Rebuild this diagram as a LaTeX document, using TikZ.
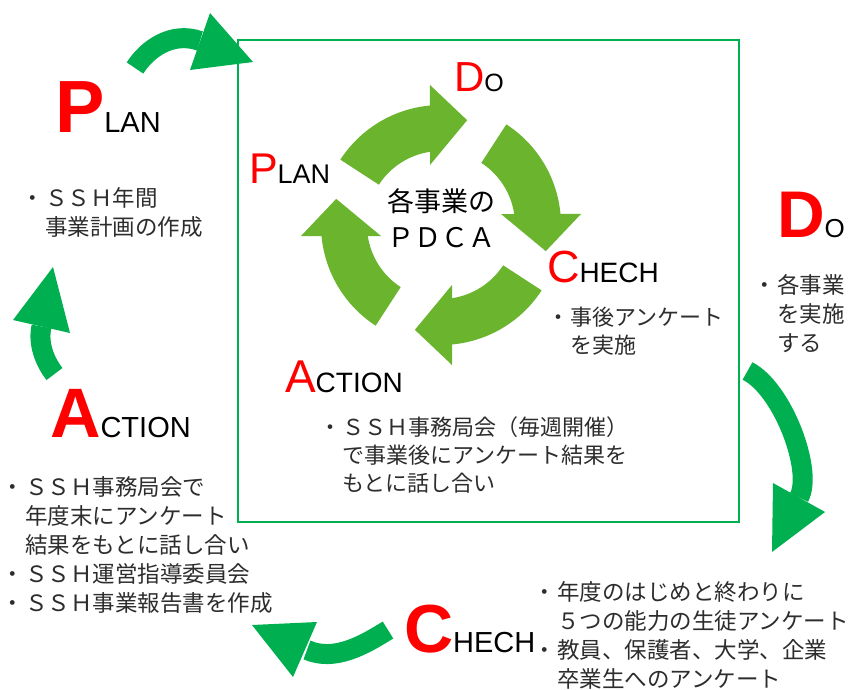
\documentclass[tikz,border=0pt]{standalone}
\usepackage{fontspec}
\setmainfont{Liberation Sans}
\newfontfamily\jp{Noto Sans CJK JP}
\definecolor{dkgreen}{RGB}{0,176,80}
\definecolor{ltgreen}{RGB}{106,180,46}
\definecolor{txt}{RGB}{45,45,45}
\newcommand\redB[2]{{\color{red}\fontsize{#1}{#1}\selectfont\bfseries #2}}
\newcommand\redL[2]{{\color{red}\fontsize{#1}{#1}\selectfont #2}}
\newcommand\smL[2]{{\fontsize{#1}{#1}\selectfont #2}}
\newcommand\bul{\makebox[16pt][l]{\makebox[8pt]{・}}}
\newcommand\ind{\hspace*{16pt}}
\begin{document}
\begin{tikzpicture}[x=1pt,y=-1pt,
  lab/.style={anchor=base west, inner sep=0pt, outer sep=0pt},
  body/.style={anchor=west, inner sep=0pt, align=left, text=txt, font=\jp\fontsize{22.5}{29}\selectfont},
  ibody/.style={body, font=\jp\fontsize{22}{28}\selectfont},
  outarrow/.style={draw=dkgreen, line width=20pt},
  head/.style={fill=dkgreen}]
\useasboundingbox (0,0) rectangle (862,690);
\fill[white] (0,0) rectangle (862,690);

% frame
\draw[dkgreen, line width=2.6pt] (238,40) rectangle (739,522);

% inner cycle
\begin{scope}[shift={(441,225)}, yscale=-1]
  \foreach \a in {0,-90,-180,-270} {
    \fill[ltgreen, rotate=\a] (147:120) arc[start angle=147, end angle=95.3, radius=120]
      -- (-11,140) -- (76:108) -- (-11,60) -- (-11,73.2)
      arc[start angle=98.5, end angle=147, radius=74] -- cycle;
  }
\end{scope}
\node[font=\jp\fontsize{27}{27}\selectfont, inner sep=0pt] (c1) at (441,201) {各事業の};
\node[font=\jp\fontsize{27}{27}\selectfont, inner sep=0pt] (c2) at (441,238) {ＰＤＣＡ};

% outer arrows
\draw[outarrow] (135,68) .. controls (147,49) and (172,31) .. (200,41);
\fill[head] (210,13) -- (253,62) -- (190,70) -- cycle;
\draw[outarrow] (747.5,371) .. controls (783,389) and (813.5,471.5) .. (799,497.5);
\fill[head] (773,483) -- (772,552) -- (825,512) -- cycle;
\draw[outarrow] (388,630) .. controls (364,645) and (334.5,662) .. (307,650);
\fill[head] (317,622) -- (252,625) -- (293,677) -- cycle;
\draw[outarrow] (54.5,374) .. controls (45,362) and (37.6,343.6) .. (41.5,326.5);
\fill[head] (13,320) -- (53,267) -- (70,333) -- cycle;

% outer labels
\node[lab] (oP) at (55,132) {\redB{74}{P}\smL{29}{LAN}};
\node[lab] (oD) at (777,237) {\redB{66}{D}\smL{26}{O}};
\node[lab] (oA) at (50,437) {\redB{70}{A}\smL{29}{CTION}};
\node[lab] (oC) at (404,652) {\redB{68}{C}\smL{29}{HECH}};

% inner labels
\node[lab] (iP) at (249,183) {\redL{43}{P}\smL{27}{LAN}};
\node[lab] (iD) at (454,92) {\redL{42}{D}\smL{25}{O}};
\node[lab] (iC) at (547,282) {\redL{45}{C}\smL{28}{HECH}};
\node[lab] (iA) at (285,392) {\redL{46}{A}\smL{28}{CTION}};

% texts
\node[body] (t1) at (29,212) {\bul ＳＳＨ年間\\\ind 事業計画の作成};
\node[body] (t2) at (761,313.5) {\bul 各事業\\\ind を実施\\\ind する};
\node[ibody] (t3) at (554,331) {\bul 事後アンケート\\\ind を実施};
\node[ibody] (t4) at (326,455) {\bul ＳＳＨ事務局会（毎週開催）\\\ind で事業後にアンケート結果を\\\ind もとに話し合い};
\node[body] (t5) at (9,545) {\bul ＳＳＨ事務局会で\\\ind 年度末にアンケート\\\ind 結果をもとに話し合い\\\bul ＳＳＨ運営指導委員会\\\bul ＳＳＨ事業報告書を作成};
\node[body] (t6) at (541,635) {\bul 年度のはじめと終わりに\\\ind ５つの能力の生徒アンケート\\\bul 教員、保護者、大学、企業\\\ind 卒業生へのアンケート};
\end{tikzpicture}
\end{document}
